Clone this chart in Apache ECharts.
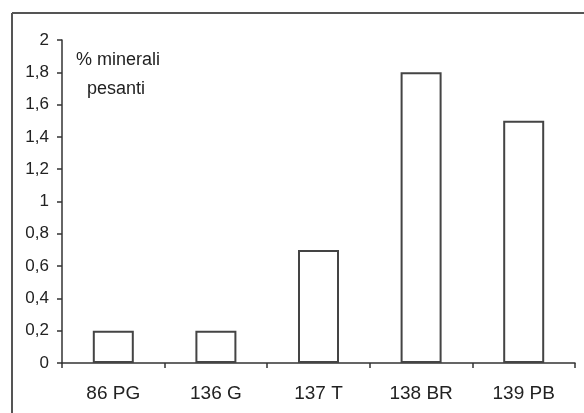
<!DOCTYPE html>
<html>
<head>
<meta charset="utf-8">
<script src="https://cdn.jsdelivr.net/npm/echarts@6/dist/echarts.min.js"></script>
<style>
    html, body { margin: 0; padding: 0; background: #fff; }
    #chart { width: 584px; height: 413px; }
</style>
</head>
<body>
<div id="chart"></div>
<script>
const categories = ['86 PG', '136 G', '137 T', '138 BR', '139 PB'];
const values = [0.2, 0.2, 0.7, 1.8, 1.5];
const yTicks = ['0', '0,2', '0,4', '0,6', '0,8', '1', '1,2', '1,4', '1,6', '1,8', '2'];

let chart = echarts.init(document.getElementById('chart'));

const labelFont = '18px "Liberation Sans", Arial, sans-serif';

const option = {
    backgroundColor: '#fff',
    animation: false,
    grid: {
        left: 62,
        right: 9,
        top: 40,
        bottom: 50
    },
    // frame: only the top and left edges show in the scan
    graphic: [
        {type: 'line', shape: {x1: 12, y1: 13, x2: 584, y2: 13}, style: {stroke: '#555', lineWidth: 2}},
        {type: 'line', shape: {x1: 12, y1: 13, x2: 12, y2: 413}, style: {stroke: '#555', lineWidth: 2}},
        {type: 'text', x: 118, y: 60, style: {text: '% minerali', fill: '#222', font: labelFont, textAlign: 'center', textVerticalAlign: 'middle'}},
        {type: 'text', x: 116, y: 89, style: {text: 'pesanti', fill: '#222', font: labelFont, textAlign: 'center', textVerticalAlign: 'middle'}}
    ],
    xAxis: {
        type: 'category',
        data: categories,
        axisLine: {lineStyle: {color: '#333', width: 1.5}},
        axisTick: {show: true, length: 5, lineStyle: {color: '#333', width: 1.5}},
        axisLabel: {color: '#222', fontSize: 19, fontFamily: 'Liberation Sans', margin: 21}
    },
    yAxis: {
        type: 'value',
        min: 0,
        max: 2,
        interval: 0.2,
        splitLine: {show: false},
        axisLine: {show: true, lineStyle: {color: '#333', width: 1.5}},
        axisTick: {show: true, length: 5, lineStyle: {color: '#333', width: 1.5}},
        axisLabel: {
            color: '#222',
            fontSize: 17,
            fontFamily: 'Liberation Sans',
            margin: 13,
            formatter: function (v) {
                return yTicks[Math.round(v / 0.2)];
            }
        }
    },
    series: [
        {
            type: 'bar',
            data: values,
            barWidth: 41,
            itemStyle: {color: '#fff', borderColor: '#444', borderWidth: 2}
        }
    ]
};

chart.setOption(option);
</script>
</body>
</html>
